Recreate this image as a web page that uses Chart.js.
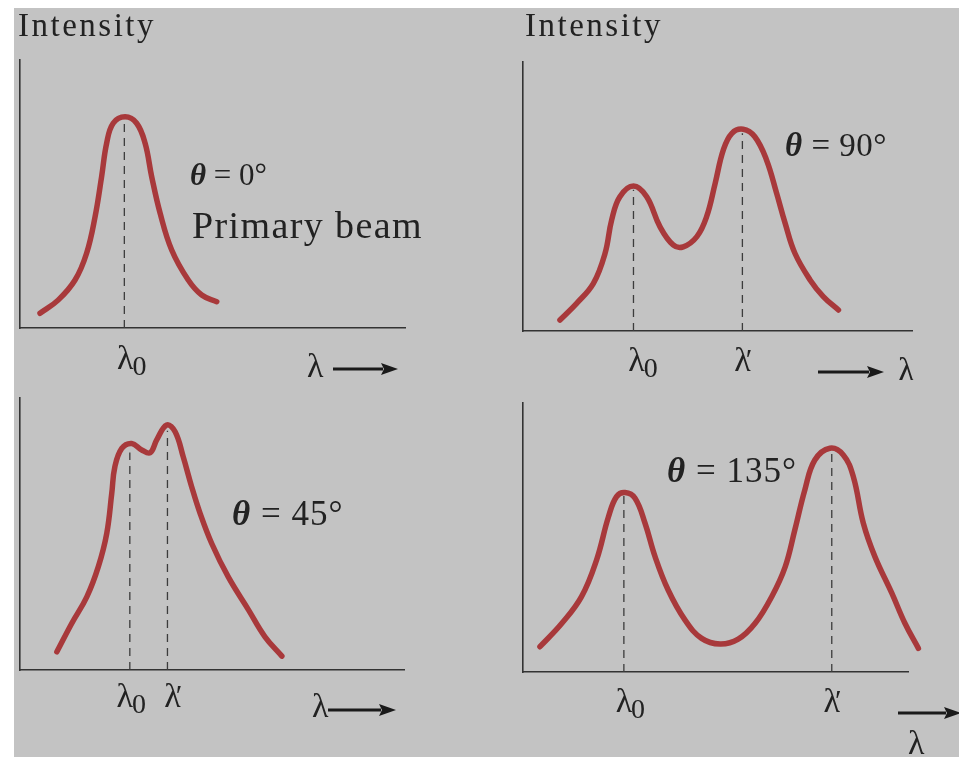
<!DOCTYPE html>
<html>
<head>
<meta charset="utf-8">
<script src="https://cdn.jsdelivr.net/npm/chart.js@4.4.1/dist/chart.umd.min.js"></script>
<style>
  html, body { margin: 0; padding: 0; background: #ffffff; }
  #page { position: relative; width: 959px; height: 757px; overflow: hidden; background: #ffffff; }
  #paper { position: absolute; left: 14px; top: 8px; width: 945px; height: 749px; background: #c3c3c3; }
  canvas { position: absolute; }
</style>
</head>
<body>
<div id="page">
  <div id="paper"></div>
  <canvas id="c1" width="480" height="380" style="left:0px;top:0px;"></canvas>
  <canvas id="c2" width="479" height="380" style="left:480px;top:0px;"></canvas>
  <canvas id="c3" width="480" height="377" style="left:0px;top:380px;"></canvas>
  <canvas id="c4" width="479" height="377" style="left:480px;top:380px;"></canvas>
</div>
<script>
// ---------------- DATA (wavelength in arbitrary units 0-100, intensity 0-100) ----------------
// θ = 0° (primary beam)
const p1X = [5.2, 9.9, 14.3, 17.3, 19.5, 21.2, 22.5, 24.2, 27.3, 30.3, 32.5, 34.2, 36.4, 39.4, 43.7, 47.2, 51.1];
const p1Y = [5.5, 10.4, 17.9, 27.9, 41.5, 56.5, 68.9, 76.4, 78.8, 76.4, 68.9, 56.5, 42.8, 29.1, 17.9, 12.3, 9.8];
const p1MarkX = [27.1];
const p1MarkTop = [78];
const p1MarkLabels = ['λ0'];

// θ = 90°
const p2X = [9.5, 13.8, 18.1, 21.1, 22.8, 24.9, 28.4, 31.8, 35.2, 38.6, 41.2, 44.7, 47.2, 49.4, 51.5, 53.7, 56.6, 59.6, 62.6, 65.2, 67.4, 69.9, 73.8, 77.2, 81.1];
const p2Y = [4.1, 10.3, 17.7, 28.9, 41.3, 49.9, 53.9, 49.9, 38.8, 32.0, 31.3, 35.1, 42.5, 54.9, 67.3, 73.5, 75.0, 72.2, 63.6, 51.2, 40.0, 28.9, 19.0, 12.8, 7.8];
const p2MarkX = [28.4, 56.4];
const p2MarkTop = [52.5, 73.5];
const p2MarkLabels = ['λ0', 'λ′'];

// θ = 45°
const p3X = [9.6, 13.5, 17.4, 20.4, 22.6, 23.9, 24.7, 26.5, 29.1, 31.7, 33.9, 35.6, 38.2, 40.4, 42.5, 44.7, 46.9, 49.9, 54.2, 59.5, 63.8, 68.2];
const p3Y = [6.7, 17.2, 26.9, 38.0, 50.3, 65.0, 74.7, 81.5, 83.3, 80.9, 79.9, 84.6, 90.1, 87.6, 78.4, 67.4, 57.6, 46.6, 34.3, 22.1, 12.2, 5.1];
const p3MarkX = [28.6, 38.4];
const p3MarkTop = [80, 88];
const p3MarkLabels = ['λ0', 'λ′'];

// θ = 135°
const p4X = [4.4, 10.1, 15.2, 19.1, 22.2, 24.3, 26.5, 29.1, 31.7, 34.3, 37.7, 42.1, 46.4, 51.2, 55.9, 60.3, 64.6, 68.1, 70.6, 73.2, 75.8, 79.7, 83.2, 85.8, 88.4, 91.4, 95.8, 99.2, 102.7];
const p4Y = [9.4, 18.1, 28.0, 41.6, 57.7, 65.2, 66.7, 64.6, 55.3, 42.9, 30.5, 19.3, 12.5, 10.4, 12.2, 18.1, 28.0, 39.1, 52.8, 67.7, 78.8, 83.2, 80.7, 72.6, 55.3, 42.9, 29.3, 18.1, 8.8];
const p4MarkX = [26.2, 80.2];
const p4MarkTop = [65.5, 82];
const p4MarkLabels = ['λ0', 'λ′'];

// ---------------- STYLE ----------------
const CURVE = '#a8393b';
const INK = '#222222';
const AXIS = '#333333';
const SERIF = '"Liberation Serif", "Times New Roman", serif';

// ---------------- TEXT / ARROW PLUGIN ----------------
function drawRuns(ctx, runs, x, y, spacing) {
  let cx = x;
  runs.forEach(r => {
    ctx.font = r.font;
    ctx.letterSpacing = (spacing || 0) + 'px';
    ctx.textAlign = 'left';
    ctx.fillText(r.t, cx, y);
    cx += ctx.measureText(r.t).width;
  });
  ctx.letterSpacing = '0px';
}
function drawArrow(ctx, x1, x2, y) {
  const head = 17, half = 6;
  ctx.strokeStyle = '#1a1a1a';
  ctx.fillStyle = '#1a1a1a';
  ctx.lineWidth = 3.2;
  ctx.beginPath(); ctx.moveTo(x1, y); ctx.lineTo(x2 - head + 2, y); ctx.stroke();
  ctx.beginPath(); ctx.moveTo(x2, y); ctx.lineTo(x2 - head, y - half); ctx.lineTo(x2 - head + 3, y); ctx.lineTo(x2 - head, y + half); ctx.closePath(); ctx.fill();
}
const panelText = {
  id: 'panelText',
  afterDatasetsDraw(chart, args, o) {
    const ctx = chart.ctx;
    const xs = chart.scales.x;
    const area = chart.chartArea;
    ctx.save();
    ctx.fillStyle = INK;
    ctx.textBaseline = 'alphabetic';
    (o.texts || []).forEach(t => { ctx.fillStyle = INK; drawRuns(ctx, t.runs, t.x, t.y, t.spacing); });
    // wavelength tick labels under the dashed markers
    (o.ticks || []).forEach(t => {
      const px = xs.getPixelForValue(t.value) + (t.dx || 0);
      const by = area.bottom + o.tickGap;
      ctx.fillStyle = INK;
      ctx.font = '34px ' + SERIF;
      ctx.textAlign = 'center';
      ctx.fillText('λ', px, by);
      const w = ctx.measureText('λ').width;
      ctx.textAlign = 'left';
      if (t.label === 'λ0') {
        ctx.font = '28px ' + SERIF;
        ctx.fillText('0', px + w / 2 - 1, by + 6);
      } else {
        ctx.font = '30px ' + SERIF;
        ctx.fillText('′', px + w / 2 - 5, by - 2);
      }
    });
    // λ with arrow
    if (o.lam) {
      ctx.fillStyle = INK;
      ctx.font = '34px ' + SERIF;
      ctx.textAlign = 'left';
      ctx.fillText('λ', o.lam.x, o.lam.y);
    }
    if (o.arrow) drawArrow(ctx, o.arrow.x1, o.arrow.x2, o.arrow.y);
    ctx.restore();
  }
};

function theta(rest, size) {
  return [
    { t: 'θ', font: 'italic bold ' + size + 'px ' + SERIF },
    { t: rest, font: size + 'px ' + SERIF }
  ];
}

function makePanel(id, xsArr, ysArr, markX, markTop, markLabels, padding, tickDx, textOpts) {
  const datasets = [{
    data: xsArr.map((x, i) => ({ x: x, y: ysArr[i] })),
    borderColor: CURVE,
    borderWidth: 5.5,
    pointRadius: 0,
    fill: false,
    tension: 0.4,
    borderCapStyle: 'round',
    borderJoinStyle: 'round',
    clip: false,
    order: 0
  }];
  markX.forEach((mx, i) => {
    datasets.push({
      data: [{ x: mx, y: 0 }, { x: mx, y: markTop[i] }],
      borderColor: '#3c3c3c',
      borderWidth: 1.3,
      borderDash: [8, 6],
      pointRadius: 0,
      fill: false,
      order: 1
    });
  });
  const ticks = markX.map((mx, i) => ({ value: mx, label: markLabels[i], dx: tickDx[i] }));
  const axisOpts = {
    type: 'linear', min: 0, max: 100,
    grid: { display: false, drawTicks: false },
    ticks: { display: false },
    border: { display: true, color: AXIS, width: 1.6 }
  };
  return new Chart(document.getElementById(id), {
    type: 'line',
    data: { datasets: datasets },
    options: {
      responsive: false,
      animation: false,
      events: [],
      layout: { padding: padding },
      plugins: {
        legend: { display: false },
        tooltip: { enabled: false },
        panelText: Object.assign({ ticks: ticks, tickGap: 40 }, textOpts)
      },
      scales: {
        x: Object.assign({}, axisOpts, { position: 'bottom' }),
        y: Object.assign({}, axisOpts, { position: 'left' })
      }
    },
    plugins: [panelText]
  });
}

function build() {
  makePanel('c1', p1X, p1Y, p1MarkX, p1MarkTop, p1MarkLabels,
    { left: 20, top: 60, right: 75, bottom: 52 }, [1],
    {
      texts: [
        { runs: [{ t: 'Intensity', font: '33px ' + SERIF }], x: 18, y: 36, spacing: 2.5 },
        { runs: theta(' = 0°', 31), x: 190, y: 185 },
        { runs: [{ t: 'Primary beam', font: '38px ' + SERIF }], x: 192, y: 238, spacing: 1.4 }
      ],
      lam: { x: 307, y: 377 },
      arrow: { x1: 333, x2: 398, y: 369 },
      tickGap: 41
    });

  makePanel('c2', p2X, p2Y, p2MarkX, p2MarkTop, p2MarkLabels,
    { left: 43, top: 62, right: 47, bottom: 49 }, [3, 0],
    {
      texts: [
        { runs: [{ t: 'Intensity', font: '33px ' + SERIF }], x: 45, y: 36, spacing: 2.5 },
        { runs: theta(' = 90°', 33), x: 305, y: 156, spacing: 0.5 }
      ],
      lam: { x: 418, y: 381 },
      arrow: { x1: 338, x2: 404, y: 372 },
      tickGap: 40
    });

  makePanel('c3', p3X, p3Y, p3MarkX, p3MarkTop, p3MarkLabels,
    { left: 20, top: 18, right: 76, bottom: 87 }, [-5, 5],
    {
      texts: [
        { runs: theta(' = 45°', 35), x: 232, y: 145, spacing: 1 }
      ],
      lam: { x: 312, y: 337 },
      arrow: { x1: 328, x2: 396, y: 330 },
      tickGap: 37
    });

  makePanel('c4', p4X, p4Y, p4MarkX, p4MarkTop, p4MarkLabels,
    { left: 43, top: 23, right: 51, bottom: 85 }, [0, 0],
    {
      texts: [
        { runs: theta(' = 135°', 35), x: 187, y: 102, spacing: 1 }
      ],
      lam: { x: 428, y: 374 },
      arrow: { x1: 418, x2: 481, y: 333 },
      tickGap: 40
    });
}

const fontLoads = [
  '33px "Liberation Serif"', 'italic bold 33px "Liberation Serif"'
].map(f => (document.fonts && document.fonts.load) ? document.fonts.load(f, 'Intensityλθ0°') : Promise.resolve());
Promise.all(fontLoads).then(build, build);
</script>
</body>
</html>
